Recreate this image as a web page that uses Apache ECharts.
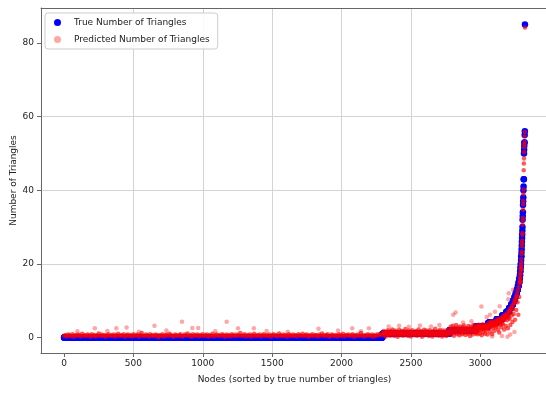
<!DOCTYPE html>
<html>
<head>
<meta charset="utf-8">
<script src="https://cdn.jsdelivr.net/npm/echarts@6/dist/echarts.min.js"></script>
<style>
  html, body { margin: 0; padding: 0; background: #fff; }
  #chart { width: 546px; height: 394px; }
</style>
</head>
<body>
<div id="chart"></div>
<script>
// Tick positions
const xTicks = [0, 500, 1000, 1500, 2000, 2500, 3000];
const yTicks = [0, 20, 40, 60, 80];

// True triangle counts, nodes sorted ascending: [count value, number of nodes]
const trueRuns = [
  [0, 2295], [1, 483], [2, 190], [3, 90], [4, 60], [5, 40], [6, 30], [7, 20],
  [8, 15], [9, 13], [10, 11], [11, 9], [12, 8], [13, 7], [14, 6], [15, 5], [16, 4]
];
// Highest-count nodes, one value per node (follow the runs above)
const trueTop = [17, 17, 18, 18, 19, 19, 20, 20, 21, 22, 22, 23, 24, 25, 26, 27, 28, 29,
  30, 32, 33, 34, 36, 37, 38, 40, 41, 43, 43, 50, 51, 52, 53, 53, 55, 56, 85];

// Predicted counts, zero-count nodes (every 10th node from 0)
const predFlat = [
  0.5,0.7,0.3,0.8,0.6,0.4,0.9,0.2,0.7,0.5,0.8,0.6,0.3,1.0,0.5,0.7,0.4,0.8,0.6,0.2,
  0.9,0.5,0.7,0.3,0.6,1.1,0.4,0.8,0.5,0.7,0.2,0.6,0.9,0.4,0.7,0.5,0.8,0.3,0.6,1.0,
  0.4,0.7,0.5,0.9,0.2,0.6,0.8,0.4,0.7,0.3,0.9,0.5,0.6,0.8,0.2,0.7,1.2,0.5,0.4,0.8,
  0.6,0.3,0.9,0.5,0.7,0.4,0.8,0.6,0.1,0.7,0.5,0.9,0.3,0.6,0.8,0.4,1.0,0.7,0.5,0.2,
  0.8,0.6,0.4,0.7,0.9,0.3,0.5,0.8,0.6,1.1,0.4,0.7,0.2,0.9,0.5,0.6,0.8,0.3,0.7,0.5,
  0.9,0.4,0.6,0.8,0.2,0.7,0.5,1.0,0.3,0.6,0.8,0.5,0.7,0.4,0.9,0.6,0.2,0.8,0.5,0.7,
  0.3,0.9,0.6,0.4,0.8,0.5,0.7,1.2,0.4,0.6,0.9,0.3,0.7,0.5,0.8,0.2,0.6,1.0,0.4,0.7,
  0.5,0.8,0.3,0.6,0.9,0.4,0.7,0.5,0.8,0.2,0.6,0.9,0.5,0.7,0.3,1.1,0.6,0.4,0.8,0.5,
  0.7,0.2,0.9,0.6,0.4,0.8,0.5,0.7,0.3,0.9,0.6,0.5,1.0,0.4,0.7,0.8,0.2,0.6,0.5,0.9,
  0.4,0.7,0.6,0.3,0.8,0.5,1.1,0.6,0.4,0.7,0.9,0.2,0.5,0.8,0.6,0.4,0.7,0.3,0.9,0.6,
  0.5,1.0,0.3,0.7,0.6,0.8,0.4,0.6,0.9,0.2,0.7,0.5,0.8,0.4,1.2,0.6,0.3,0.7,0.5,0.9,
  0.6,0.4,0.8,0.2,0.7,0.5,0.9,0.6,0.8
];
// Predicted counts, one-triangle nodes (every 5th node from 2295)
const predLevel1 = [
  1.2,0.6,1.8,0.9,1.4,0.3,1.6,1.1,2.0,0.7,1.3,0.5,1.7,1.0,2.2,0.8,
  1.5,0.4,1.9,1.2,0.8,1.6,0.2,1.3,2.1,0.9,1.4,0.6,1.8,1.1,0.5,1.7,
  1.0,2.3,0.7,1.5,1.2,0.4,1.9,0.9,1.6,0.3,1.3,2.0,0.8,1.4,1.1,0.6,
  1.8,1.2,0.5,1.6,2.2,0.9,1.3,0.7,1.7,0.2,1.5,1.0,2.1,0.6,1.4,1.9,
  0.8,1.2,1.6,0.4,2.0,1.1,0.7,1.5,0.3,1.8,1.3,0.9,2.4,0.6,1.4,1.0,
  1.7,0.5,1.2,2.1,0.8,1.6,0.3,1.4,1.9,0.7,1.1,1.5,0.4,2.0,0.9,1.3
];
// Predicted counts, two-triangle nodes (every 4th node from 2778)
const predLevel2 = [
  2.1,0.8,2.9,1.5,2.4,1.1,3.2,1.8,0.5,2.6,1.9,1.2,3.4,2.2,0.9,2.7,
  1.6,2.3,0.6,3.0,1.4,2.5,1.9,0.9,2.8,1.2,3.3,2.0,1.5,0.7,2.6,1.8,
  2.4,1.0,3.1,1.7,2.2,0.4,2.9,1.3,2.5,1.9,0.8,3.4,2.1,1.6,2.7,1.1
];
// Predicted counts on the rising part (every 3rd node from 2968)
const predRise = [
  2.6,1.4,3.2,2.0,0.9,2.8,3.5,1.7,2.3,3.0,1.1,2.6,3.3,2.0,0.6,2.9,2.4,3.6,1.5,2.7,
  3.1,2.2,1.0,2.8,3.4,1.9,2.5,3.2,0.8,2.7,
  3.6,2.4,4.1,3.0,1.6,3.8,2.9,4.4,3.3,0.9,3.7,2.6,4.2,3.1,1.8,3.9,3.4,4.5,2.7,3.6,
  4.4,3.2,5.0,2.1,4.6,3.8,1.4,4.9,4.1,3.5,5.3,2.8,4.5,3.9,
  5.4,3.6,5.9,4.8,2.2,5.6,4.9,6.2,3.1,5.5,
  6.3,4.7,6.8,2.5,6.0,5.4,
  7.2,5.1,7.6,3.4,6.8,
  8.1,6.0,8.6,4.2,7.7,
  9.0,6.4,9.4,
  9.9,4.8,10.4,
  10.8,7.5,11.3,
  11.9,9.6,
  12.8,6.2,
  13.7,11.0,
  14.9
];
// Predicted counts for the highest-count nodes (same nodes as trueTop)
const predPeak = [15.8,16.4,14.9,17.1,17.6,15.2,18.5,19.1,19.8,20.4,21.3,18.6,22.7,23.4,
  24.8,25.6,26.3,27.9,28.4,30.6,31.8,32.5,34.7,36.2,37.1,38.9,40.2,45.4,47.3,48.6,
  50.3,51.7,52.4,53.1,54.6,55.8,84.2];
// Scattered predictions away from the main band: [node, predicted count]
const predOutliers = [
  [96,1.7],[222,2.5],[312,1.8],[377,2.5],[451,2.7],[540,1.6],[652,3.2],[738,1.9],
  [850,4.3],[925,2.6],[967,2.6],[1090,1.7],[1172,4.3],[1254,2.5],[1368,2.5],[1460,1.8],
  [1612,1.6],[1834,2.4],[1975,1.9],[2077,2.5],[2140,1.7],[2197,2.5],
  [2340,3.0],[2415,3.2],[2485,2.9],[2565,3.3],[2645,3.0],[2705,3.4],[2805,6.2],[2822,6.8],
  [2876,4.1],[2936,4.4],[3008,8.4],[3046,5.6],[3070,6.2],[3086,0.3],[3106,7.0],
  [3140,8.5],[3156,0.4],[3196,0.2],[3202,10.4],[3205,12.0],[3216,0.8],[3236,13.0],[3246,1.5]
];

// Build point lists
const trueData = [];
let node = 0;
trueRuns.forEach(([v, n]) => { for (let k = 0; k < n; k++) trueData.push([node++, v]); });
const topStart = node;
trueTop.forEach(v => trueData.push([node++, v]));

const predData = [];
predFlat.forEach((v, i) => predData.push([0 + 10 * i, v]));
predLevel1.forEach((v, i) => predData.push([2295 + 5 * i, v]));
predLevel2.forEach((v, i) => predData.push([2778 + 4 * i, v]));
predRise.forEach((v, i) => predData.push([2968 + 3 * i, v]));
predPeak.forEach((v, i) => predData.push([topStart + i, v]));
// isolated points are drawn a little fainter than the dense band
predOutliers.forEach(p => predData.push({ value: p, itemStyle: { opacity: 0.35 } }));

const textColor = '#222';
const spineColor = '#666';
const font = 'DejaVu Sans';
const fs = 9;
const xRange = { min: -166, max: 3488 };
const gridLine = { show: true, showMinLine: false, showMaxLine: false, lineStyle: { color: '#d3d3d3', width: 1 } };

const chart = echarts.init(document.getElementById('chart'), null, { renderer: 'canvas' });
chart.setOption({
  animation: false,
  backgroundColor: '#fff',
  grid: {
    left: 41, top: 8, width: 507, height: 345,
    outerBoundsMode: 'none',
    containLabel: false,
    show: false
  },
  legend: {
    orient: 'vertical',
    left: 45, top: 13,
    itemWidth: 7, itemHeight: 7, itemGap: 8,
    padding: [5, 8, 5, 9],
    backgroundColor: 'rgba(255,255,255,0.85)',
    borderColor: '#ccc', borderWidth: 1, borderRadius: 3,
    textStyle: { fontFamily: font, fontSize: fs, color: textColor, padding: [0, 0, 0, 8] },
    data: [
      { name: 'True Number of Triangles', icon: 'circle' },
      { name: 'Predicted Number of Triangles', icon: 'circle', itemStyle: { opacity: 0.35 } }
    ]
  },
  xAxis: [
    {
      type: 'value', ...xRange,
      name: 'Nodes (sorted by true number of triangles)',
      nameLocation: 'middle', nameGap: 22, nameMoveOverlap: false,
      nameTextStyle: { fontFamily: font, fontSize: fs, color: textColor },
      axisLine: { show: true, onZero: false, lineStyle: { color: spineColor, width: 1 } },
      axisTick: { show: true, length: 4, customValues: xTicks, lineStyle: { color: spineColor } },
      axisLabel: {
        customValues: xTicks, margin: 6, fontFamily: font, fontSize: fs, color: textColor,
        formatter: v => String(v)
      },
      splitLine: gridLine
    },
    {
      // top spine
      type: 'value', ...xRange, position: 'top',
      axisLine: { show: true, onZero: false, lineStyle: { color: spineColor, width: 1 } },
      axisTick: { show: false }, axisLabel: { show: false }, splitLine: { show: false }
    }
  ],
  yAxis: {
    type: 'value', min: -4.2, max: 89.5,
    name: 'Number of Triangles',
    nameLocation: 'middle', nameGap: 23, nameMoveOverlap: false,
    nameTextStyle: { fontFamily: font, fontSize: fs, color: textColor },
    axisLine: { show: true, onZero: false, lineStyle: { color: spineColor, width: 1 } },
    axisTick: { show: true, length: 4, customValues: yTicks, lineStyle: { color: spineColor } },
    axisLabel: {
      customValues: yTicks, margin: 7, fontFamily: font, fontSize: fs, color: textColor,
      formatter: v => String(v)
    },
    splitLine: gridLine
  },
  series: [
    {
      name: 'True Number of Triangles',
      type: 'scatter',
      data: trueData,
      symbol: 'circle',
      symbolSize: 6.5,
      progressive: 0,
      itemStyle: { color: '#0000ff', opacity: 1 },
      emphasis: { disabled: true }
    },
    {
      name: 'Predicted Number of Triangles',
      type: 'scatter',
      data: predData,
      symbol: 'circle',
      symbolSize: 4.5,
      progressive: 0,
      itemStyle: { color: '#ff0000', opacity: 0.65 },
      emphasis: { disabled: true }
    }
  ]
});
</script>
</body>
</html>
